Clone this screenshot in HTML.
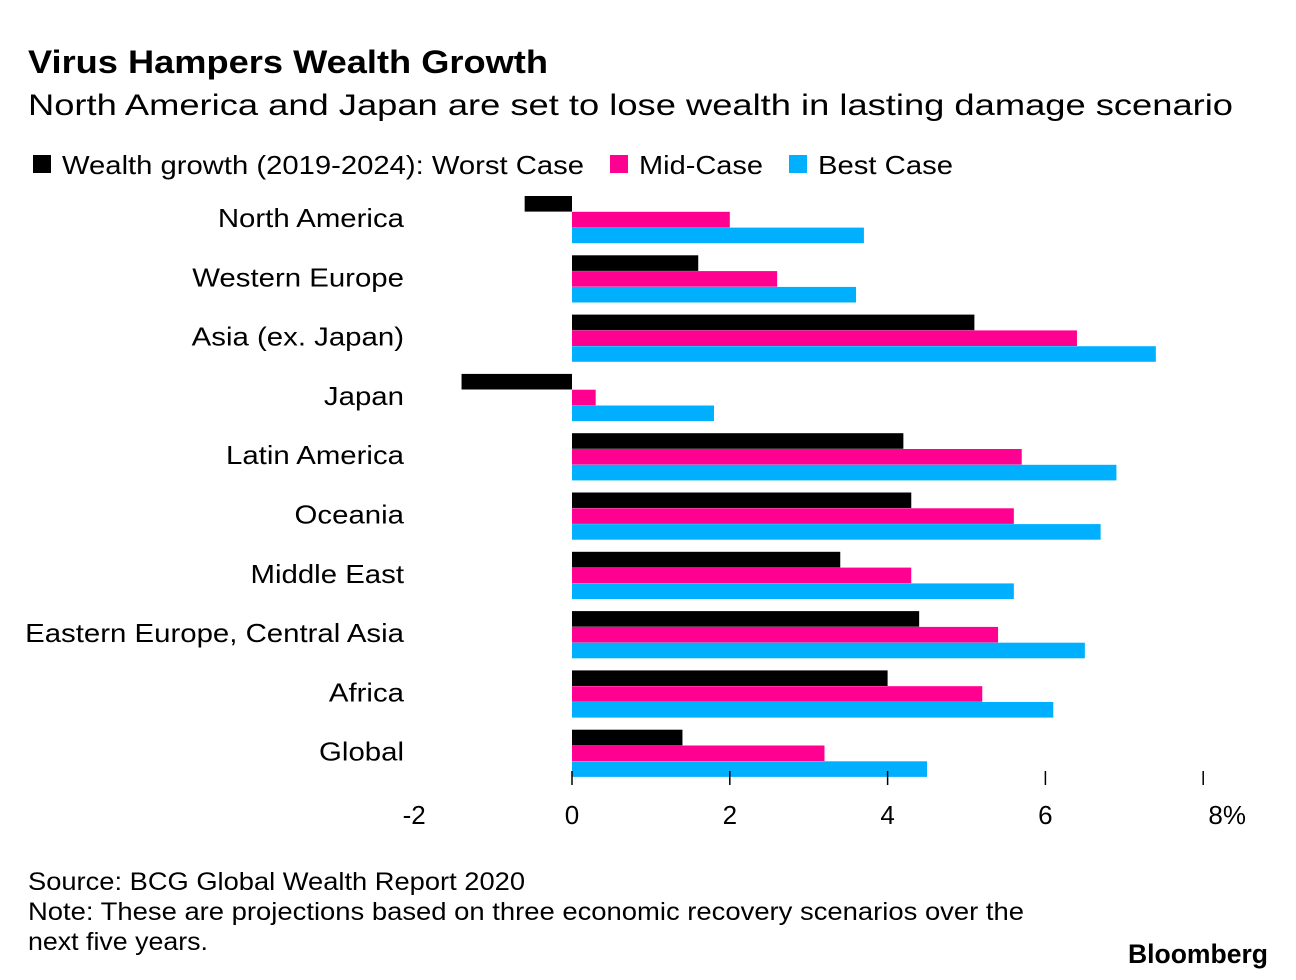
<!DOCTYPE html>
<html><head><meta charset="utf-8"><style>
body{margin:0;width:1296px;height:980px;background:#fff;font-family:"Liberation Sans",Arial,sans-serif;color:#000;overflow:hidden}
</style></head><body>
<svg width="1296" height="980" style="position:absolute;left:0;top:0">
<text x="28" y="73" font-size="32" font-weight="bold" textLength="520" lengthAdjust="spacingAndGlyphs">Virus Hampers Wealth Growth</text>
<text x="28" y="115" font-size="30" textLength="1205" lengthAdjust="spacingAndGlyphs">North America and Japan are set to lose wealth in lasting damage scenario</text>
<g font-size="26">
<rect x="33" y="155" width="18" height="18" fill="#000"/>
<text x="62" y="174" textLength="522" lengthAdjust="spacingAndGlyphs">Wealth growth (2019-2024): Worst Case</text>
<rect x="610" y="155" width="18" height="18" fill="#ff0090"/>
<text x="639" y="174" textLength="124" lengthAdjust="spacingAndGlyphs">Mid-Case</text>
<rect x="789" y="155" width="18" height="18" fill="#00b0ff"/>
<text x="818" y="174" textLength="135" lengthAdjust="spacingAndGlyphs">Best Case</text>
</g>
<g id="plot"></g>
<text x="28" y="890" font-size="25" textLength="497" lengthAdjust="spacingAndGlyphs">Source: BCG Global Wealth Report 2020</text>
<text x="28" y="920" font-size="25" textLength="996" lengthAdjust="spacingAndGlyphs">Note: These are projections based on three economic recovery scenarios over the</text>
<text x="28" y="950" font-size="25" textLength="180" lengthAdjust="spacingAndGlyphs">next five years.</text>
<text x="1128" y="963" font-size="27" font-weight="bold" textLength="140" lengthAdjust="spacingAndGlyphs">Bloomberg</text>
</svg>
<script>
const categories=["North America","Western Europe","Asia (ex. Japan)","Japan","Latin America","Oceania","Middle East","Eastern Europe, Central Asia","Africa","Global"];
const worstCase=[-0.6,1.6,5.1,-1.4,4.2,4.3,3.4,4.4,4.0,1.4];
const midCase=[2.0,2.6,6.4,0.3,5.7,5.6,4.3,5.4,5.2,3.2];
const bestCase=[3.7,3.6,7.4,1.8,6.9,6.7,5.6,6.5,6.1,4.5];
const tickValues=[-2,0,2,4,6,8];
const tickLabels=["-2","0","2","4","6","8%"];
const NS="http://www.w3.org/2000/svg";
const g=document.getElementById('plot');
const x=v=>572+v*78.9;
const yTop=i=>196+i*59.3;
const series=[[worstCase,"#000","worst"],[midCase,"#ff0090","mid"],[bestCase,"#00b0ff","best"]];
categories.forEach((c,i)=>{
  series.forEach((s,j)=>{
    const v=s[0][i];
    const r=document.createElementNS(NS,'rect');
    r.setAttribute('x',Math.min(x(0),x(v)));
    r.setAttribute('y',yTop(i)+j*15.8);
    r.setAttribute('width',Math.abs(x(v)-x(0)));
    r.setAttribute('height',15.6);
    r.setAttribute('fill',s[1]);
    
    
    g.appendChild(r);
  });
  const t=document.createElementNS(NS,'text');
  t.setAttribute('x',404);t.setAttribute('y',yTop(i)+31);
  t.setAttribute('text-anchor','end');t.setAttribute('font-size','26');
  t.textContent=c;
  
  
  g.appendChild(t);
  const w=t.getComputedTextLength();
  t.setAttribute('textLength',w*1.13);
  t.setAttribute('lengthAdjust','spacingAndGlyphs');
});
tickValues.forEach((v,k)=>{
  if(v>=0){
    const l=document.createElementNS(NS,'line');
    l.setAttribute('x1',x(v));l.setAttribute('x2',x(v));
    l.setAttribute('y1',771);l.setAttribute('y2',785);
    l.setAttribute('stroke','#000');l.setAttribute('stroke-width','1.5');
    
    
    g.appendChild(l);
  }
  const t=document.createElementNS(NS,'text');
  t.setAttribute('x',v===8?x(v)+24:x(v));t.setAttribute('y',824);
  t.setAttribute('text-anchor','middle');t.setAttribute('font-size','26');
  t.textContent=tickLabels[k];
  
  
  g.appendChild(t);
});
</script>
</body></html>
